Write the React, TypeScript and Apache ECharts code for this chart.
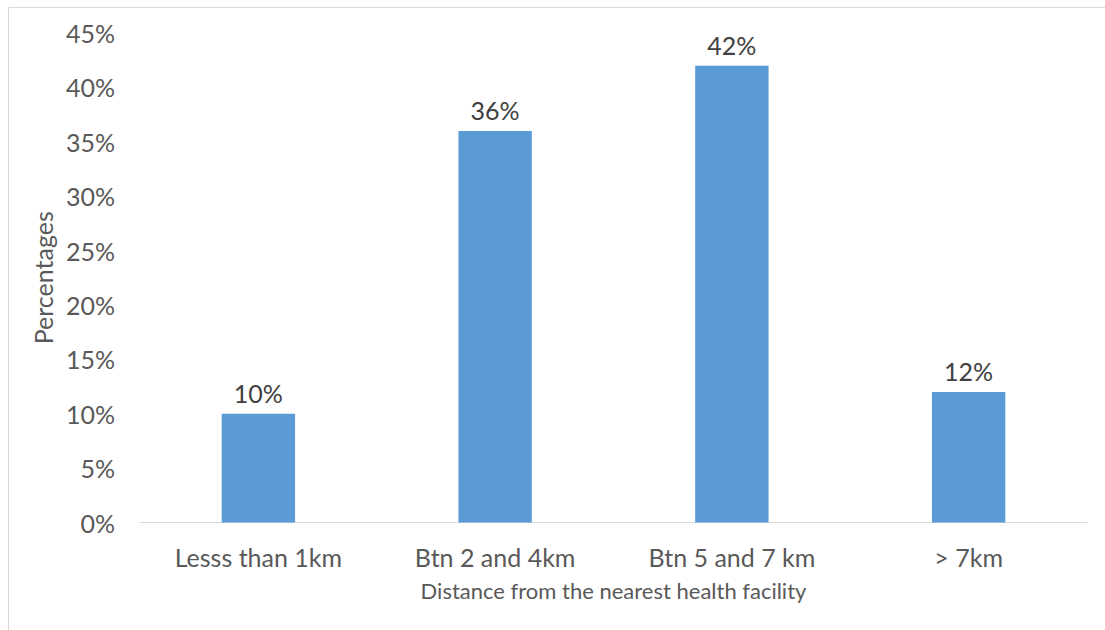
import React, { useEffect, useRef } from "react";
import * as echarts from "echarts";

const categories = ["Lesss than 1km", "Btn 2 and 4km", "Btn 5 and 7 km", "> 7km"];
const percentages = [10, 36, 42, 12];
const yTicks = [0, 5, 10, 15, 20, 25, 30, 35, 40, 45];

const FONT = "Lato, 'Open Sans', sans-serif";

export default function App() {
  const ref = useRef<HTMLDivElement>(null);

  useEffect(() => {
    if (!ref.current) return;
    const chart = echarts.init(ref.current, undefined, { renderer: "svg" });
    chart.setOption({
      animation: false,
      backgroundColor: "#ffffff",
      textStyle: { fontFamily: FONT },
      graphic: [
        {
          type: "rect",
          shape: { x: 8.5, y: 7.5, width: 1120, height: 640 },
          style: { fill: "none", stroke: "#d9d9d9", lineWidth: 1 },
          silent: true,
        },
      ],
      grid: { left: 140, right: 18, top: 33, bottom: 107.5 },
      xAxis: {
        type: "category",
        data: categories,
        axisLine: { show: true, lineStyle: { color: "#d9d9d9", width: 1 } },
        axisTick: { show: false },
        axisLabel: { color: "#595959", fontSize: 25, margin: 22, fontFamily: FONT },
        name: "Distance from the nearest health facility",
        nameLocation: "middle",
        nameGap: 57,
        nameTextStyle: { color: "#595959", fontSize: 22, fontFamily: FONT },
      },
      yAxis: {
        type: "value",
        min: yTicks[0],
        max: yTicks[yTicks.length - 1],
        interval: 5,
        splitLine: { show: false },
        axisLine: { show: false },
        axisTick: { show: false },
        axisLabel: {
          color: "#595959",
          fontSize: 25,
          margin: 25,
          fontFamily: FONT,
          formatter: (v: number) => `${v}%`,
        },
        name: "Percentages",
        nameLocation: "middle",
        nameGap: 83,
        nameRotate: 90,
        nameTextStyle: { color: "#595959", fontSize: 25, fontFamily: FONT },
      },
      series: [
        {
          type: "bar",
          data: percentages,
          barWidth: "31%",
          itemStyle: { color: "#5b9bd5" },
          label: {
            show: true,
            position: "top",
            distance: 8,
            color: "#404040",
            fontSize: 25,
            fontFamily: FONT,
            formatter: (p: { value: number }) => `${p.value}%`,
          },
        },
      ],
    });
    return () => chart.dispose();
  }, []);

  return (
    <div
      ref={ref}
      style={{ position: "fixed", left: 0, top: 0, width: 1105, height: 630, background: "#fff" }}
    />
  );
}
